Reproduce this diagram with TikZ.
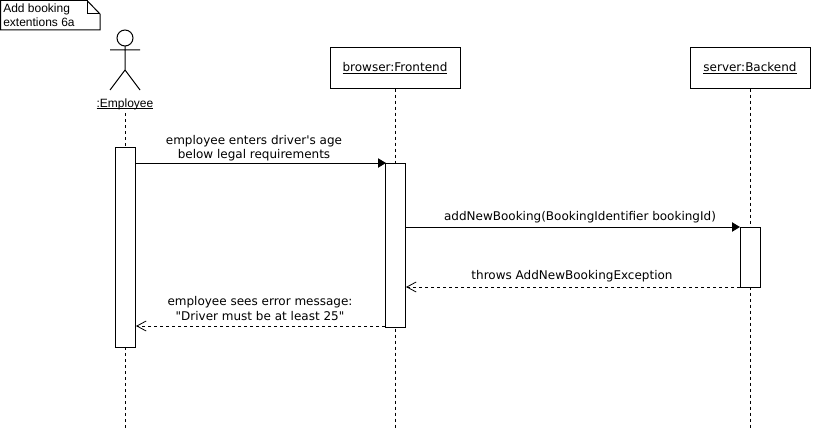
\documentclass[tikz,border=0pt]{standalone}
\usepackage{fontspec}
\setmainfont{Liberation Sans}
\newfontfamily\msgfont{DejaVu Sans}
\usetikzlibrary{arrows.meta,backgrounds}
\newcommand\ulbox[1]{\setbox0\hbox{#1}\rlap{\vrule width\wd0 height -0.6pt depth 1.2pt}\box0}
\tikzset{
  x=0.75pt,y=-0.75pt,
  ln/.style={draw=black,line width=0.75pt},
  obj/.style={ln,fill=white,minimum width=97.5pt,minimum height=30pt,inner sep=0pt,font=\msgfont\fontsize{9}{11}\selectfont},
  objb/.style={obj,minimum width=90pt},
  act/.style={ln,fill=white,minimum width=15pt,inner sep=0pt,outer sep=0pt},
  life/.style={ln,dash pattern=on 2.25pt off 2.25pt},
  sync/.style={ln,-{Triangle[length=6pt,width=7pt]}},
  ret/.style={ln,dash pattern=on 2.25pt off 2.25pt,shorten >=0.75pt,-{Straight Barb[length=7pt,width=7.5pt,line width=0.6pt]}},
  msg/.style={align=center,inner sep=0pt,font=\msgfont\fontsize{9}{10.9}\selectfont},
}
\begin{document}
\begin{tikzpicture}
\useasboundingbox (0,0) rectangle (813,428);
% objects
\node[obj] (fe) at (395,68) {\ulbox{browser:Frontend}};
\node[objb] (be) at (750,68) {\ulbox{server:Backend}};
\node[inner sep=0pt,font=\fontsize{9}{11}\selectfont] (emp) at (125,104) {\ulbox{:Employee}};
\coordinate (empstart) at (125,113);
% activations
\node[act,minimum height=150pt] (a1) at (125,247) {};
\node[act,minimum height=123pt] (f1) at (395,245) {};
\node[act,minimum height=45pt] (b1) at (750,257) {};
% lifeline ends
\coordinate (empend) at (125,428);
\coordinate (feend) at (395,428);
\coordinate (beend) at (750,428);
\begin{scope}[on background layer]
  \fill[white] (0,0) rectangle (813,428);
  \draw[life] (empstart) -- (empend);
  \draw[life] (fe.south) -- (feend);
  \draw[life] (be.south) -- (beend);
\end{scope}
% actor
\draw[ln] (125,38) circle (6pt);
\draw[ln] (125,46) -- (125,70) (110,50) -- (140,50) (110,90) -- (125,70) -- (140,90);
% note
\draw[ln,fill=white] (0.5,0.5) -- (87,0.5) -- (100,14) -- (100,30) -- (0.5,30) -- cycle;
\draw[ln] (87,0.5) -- (87,14) -- (100,14);
\node[anchor=north west,inner sep=0pt,align=left,font=\fontsize{9}{10.5}\selectfont] (note) at (3,4) {Add booking\\extentions 6a};
% messages
\draw[sync] (a1.east |- f1.north) -- ([xshift=0.75pt]f1.north west);
\node[msg] (m1) at (254,148) {employee enters driver's age\\below legal requirements};
\draw[sync] (f1.east |- b1.north) -- (b1.north west);
\node[msg] (m2) at (580,217) {addNewBooking(BookingIdentifier bookingId)};
\draw[ret] (b1.south west) -- (f1.east |- b1.south);
\node[msg] (m3) at (572,276) {throws AddNewBookingException};
\coordinate (r1) at ([yshift=0.75pt]f1.south west);
\draw[ret] (r1) -- (a1.east |- r1);
\node[msg] (m4) at (260,308.5) {employee sees error message:\\"Driver must be at least 25"};
\end{tikzpicture}
\end{document}
